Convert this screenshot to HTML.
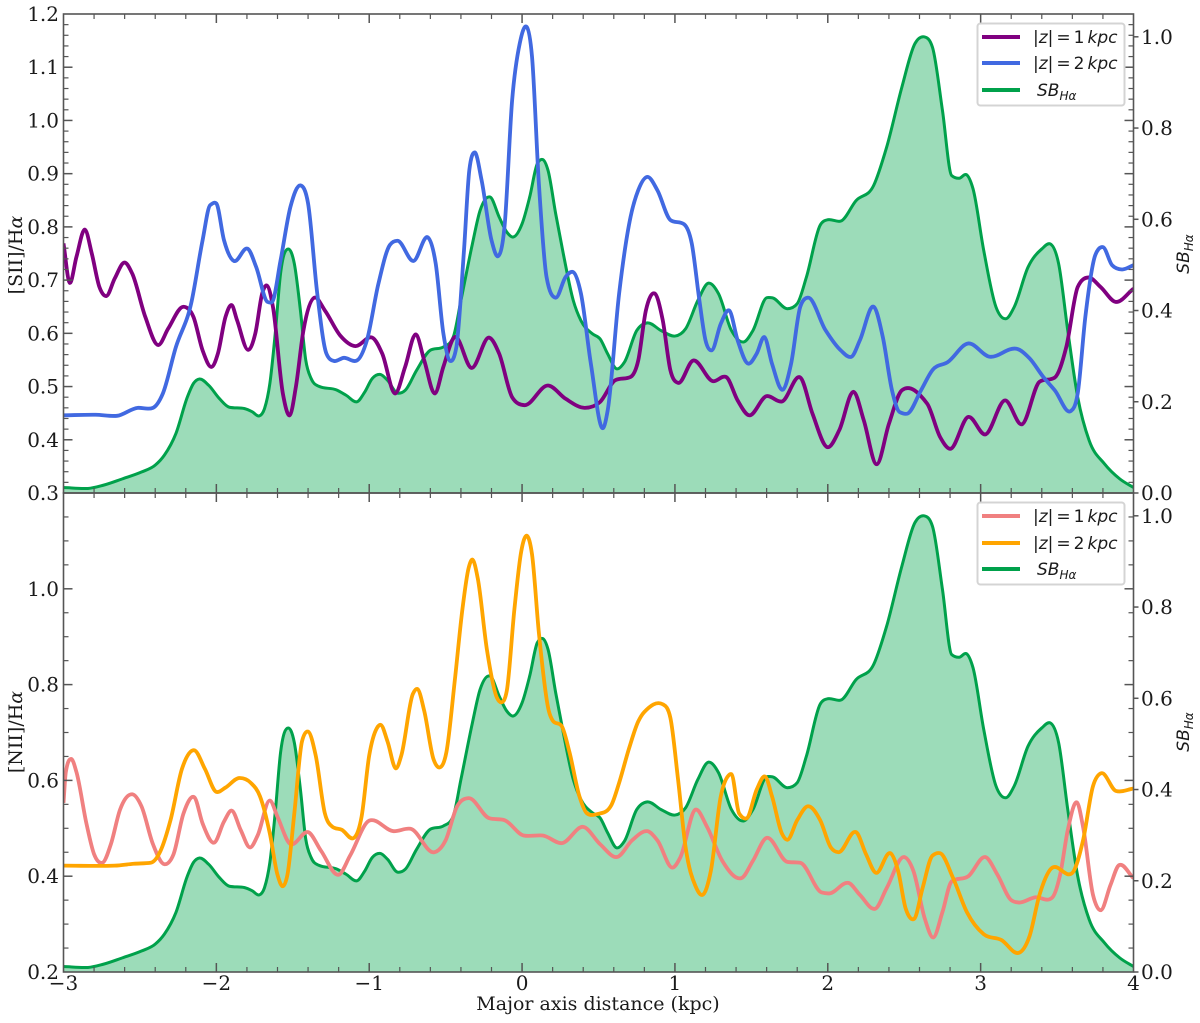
<!DOCTYPE html>
<html lang="en">
<head>
<meta charset="utf-8">
<title>[SII]/Hα and [NII]/Hα versus major axis distance</title>
<style>
html,body{margin:0;padding:0;background:#fff;width:1200px;height:1023px;overflow:hidden}
svg{display:block;filter:blur(0.35px)}
text{font-family:"DejaVu Serif","Liberation Serif",serif;fill:#1a1a1a}
.lg{font-family:"DejaVu Sans","Liberation Sans",sans-serif;font-size:17px;word-spacing:-2.4px}
.it{font-style:italic}
</style>
</head>
<body>
<svg id="chart" xmlns="http://www.w3.org/2000/svg" width="1200" height="1023" viewBox="0 0 1200 1023">
  <defs>
    <clipPath id="clip-top"><rect x="63.5" y="14" width="1070" height="479"/></clipPath>
    <clipPath id="clip-bottom"><rect x="63.5" y="493" width="1070" height="479"/></clipPath>
  </defs>
  <g id="layer-top"></g>
  <g id="layer-bottom"></g>
  <g id="layer-axes"></g>

  <text x="598" y="1010" font-size="19" text-anchor="middle">Major axis distance (kpc)</text>
  <text transform="translate(22 255) rotate(-90)" font-size="19" text-anchor="middle">[SII]/H<tspan font-style="italic">α</tspan></text>
  <text transform="translate(22 732) rotate(-90)" font-size="19" text-anchor="middle">[NII]/H<tspan font-style="italic">α</tspan></text>
  <text class="lg it" transform="translate(1189 254) rotate(-90)" text-anchor="middle">SB<tspan font-size="12" dy="4">Hα</tspan></text>
  <text class="lg it" transform="translate(1189 732) rotate(-90)" text-anchor="middle">SB<tspan font-size="12" dy="4">Hα</tspan></text>

  <g>
    <rect x="977.5" y="23.5" width="147" height="82" rx="3" fill="#fff" fill-opacity="0.85" stroke="#d4d4d4" stroke-width="2"/>
    <line x1="982" x2="1020" y1="37" y2="37" stroke="#800080" stroke-width="4"/>
    <line x1="982" x2="1020" y1="63" y2="63" stroke="#4169e1" stroke-width="4"/>
    <line x1="982" x2="1020" y1="90" y2="90" stroke="#00a14b" stroke-width="4"/>
    <text class="lg" x="1033" y="43">|<tspan class="it">z</tspan>| = 1 <tspan class="it">kpc</tspan></text>
    <text class="lg" x="1033" y="69">|<tspan class="it">z</tspan>| = 2 <tspan class="it">kpc</tspan></text>
    <text class="lg it" x="1037" y="96">SB<tspan font-size="12" dy="4">Hα</tspan></text>
  </g>
  <g>
    <rect x="977.5" y="502.5" width="147" height="82" rx="3" fill="#fff" fill-opacity="0.85" stroke="#d4d4d4" stroke-width="2"/>
    <line x1="982" x2="1020" y1="516" y2="516" stroke="#f08080" stroke-width="4"/>
    <line x1="982" x2="1020" y1="543" y2="543" stroke="#ffa500" stroke-width="4"/>
    <line x1="982" x2="1020" y1="569" y2="569" stroke="#00a14b" stroke-width="4"/>
    <text class="lg" x="1033" y="522">|<tspan class="it">z</tspan>| = 1 <tspan class="it">kpc</tspan></text>
    <text class="lg" x="1033" y="549">|<tspan class="it">z</tspan>| = 2 <tspan class="it">kpc</tspan></text>
    <text class="lg it" x="1037" y="575">SB<tspan font-size="12" dy="4">Hα</tspan></text>
  </g>
</svg>
<script>
// Surface brightness profile (shared by both panels)
var sbX = [-3,-2.84,-2.74,-2.615,-2.49,-2.4,-2.34,-2.265,-2.19,-2.15,-2.11,-2.05,-1.98,-1.915,-1.815,-1.765,-1.72,-1.685,-1.65,-1.615,-1.58,-1.53,-1.49,-1.45,-1.415,-1.38,-1.33,-1.215,-1.15,-1.08,-1.03,-0.98,-0.93,-0.88,-0.815,-0.765,-0.69,-0.6,-0.515,-0.45,-0.4,-0.325,-0.275,-0.21,-0.15,-0.1,-0.06,0,0.05,0.1,0.135,0.17,0.22,0.27,0.335,0.385,0.46,0.51,0.56,0.62,0.67,0.75,0.82,0.91,1,1.07,1.15,1.22,1.285,1.37,1.45,1.51,1.6,1.635,1.735,1.8,1.86,1.95,2,2.085,2.185,2.3,2.385,2.485,2.57,2.63,2.685,2.75,2.81,2.86,2.905,2.95,3.02,3.1,3.165,3.22,3.31,3.4,3.455,3.51,3.57,3.635,3.71,3.81,3.91,4];
var sbY = [0.012,0.01,0.017,0.031,0.046,0.061,0.083,0.13,0.21,0.24,0.25,0.236,0.207,0.188,0.185,0.178,0.169,0.185,0.24,0.349,0.481,0.535,0.503,0.4,0.291,0.251,0.234,0.226,0.214,0.2,0.221,0.251,0.26,0.247,0.219,0.225,0.269,0.313,0.32,0.342,0.422,0.546,0.619,0.649,0.605,0.572,0.561,0.59,0.649,0.722,0.731,0.707,0.612,0.524,0.422,0.378,0.349,0.338,0.305,0.272,0.287,0.356,0.373,0.356,0.344,0.36,0.422,0.46,0.437,0.356,0.331,0.356,0.428,0.428,0.404,0.415,0.473,0.587,0.599,0.596,0.641,0.674,0.758,0.89,0.985,1,0.977,0.839,0.696,0.69,0.698,0.667,0.532,0.408,0.382,0.408,0.495,0.535,0.546,0.503,0.356,0.21,0.115,0.064,0.031,0.012];

// [SII]/Halpha |z| = 1 kpc
var siiZ1X = [-3,-2.96,-2.915,-2.86,-2.815,-2.765,-2.72,-2.665,-2.6,-2.55,-2.465,-2.38,-2.315,-2.215,-2.15,-2.09,-2.03,-1.99,-1.94,-1.9,-1.865,-1.79,-1.745,-1.7,-1.67,-1.63,-1.565,-1.52,-1.48,-1.43,-1.36,-1.29,-1.19,-1.09,-0.98,-0.915,-0.83,-0.765,-0.695,-0.64,-0.57,-0.515,-0.44,-0.33,-0.215,-0.15,-0.065,0.015,0.17,0.285,0.41,0.51,0.61,0.71,0.76,0.81,0.867,0.92,0.97,1.02,1.12,1.25,1.335,1.41,1.485,1.6,1.7,1.82,1.9,2,2.075,2.17,2.235,2.32,2.4,2.485,2.65,2.735,2.8,2.92,3.03,3.16,3.27,3.385,3.485,3.56,3.635,3.705,3.785,3.885,4];
var siiZ1Y = [0.769,0.695,0.744,0.795,0.75,0.687,0.67,0.703,0.733,0.712,0.631,0.578,0.609,0.65,0.631,0.568,0.537,0.562,0.631,0.653,0.625,0.569,0.6,0.675,0.69,0.65,0.487,0.446,0.499,0.606,0.667,0.643,0.596,0.576,0.592,0.562,0.487,0.537,0.598,0.549,0.487,0.537,0.593,0.535,0.592,0.562,0.48,0.465,0.502,0.477,0.46,0.471,0.512,0.518,0.549,0.643,0.675,0.625,0.531,0.507,0.549,0.51,0.518,0.474,0.446,0.482,0.472,0.517,0.449,0.386,0.418,0.49,0.437,0.354,0.43,0.493,0.468,0.405,0.383,0.443,0.41,0.474,0.429,0.509,0.517,0.574,0.687,0.705,0.687,0.659,0.684];

// [SII]/Halpha |z| = 2 kpc
var siiZ2X = [-3,-2.79,-2.65,-2.515,-2.415,-2.35,-2.265,-2.165,-2.09,-2.04,-2,-1.95,-1.885,-1.795,-1.74,-1.665,-1.635,-1.58,-1.515,-1.45,-1.4,-1.34,-1.28,-1.23,-1.165,-1.08,-1.015,-0.94,-0.865,-0.815,-0.71,-0.615,-0.565,-0.515,-0.47,-0.43,-0.38,-0.345,-0.31,-0.265,-0.2,-0.157,-0.115,-0.065,-0.015,0.03,0.065,0.11,0.16,0.22,0.285,0.335,0.385,0.45,0.53,0.56,0.635,0.71,0.76,0.82,0.885,0.97,1.06,1.11,1.16,1.2,1.24,1.3,1.355,1.41,1.48,1.535,1.585,1.635,1.705,1.76,1.82,1.87,1.985,2.085,2.155,2.21,2.3,2.36,2.42,2.47,2.52,2.61,2.685,2.785,2.92,3.06,3.235,3.32,3.41,3.485,3.59,3.635,3.685,3.75,3.8,3.86,3.925,4];
var siiZ2Y = [0.446,0.447,0.445,0.46,0.46,0.487,0.574,0.656,0.775,0.841,0.844,0.775,0.736,0.759,0.725,0.659,0.659,0.737,0.838,0.878,0.844,0.675,0.562,0.548,0.554,0.549,0.587,0.693,0.766,0.774,0.736,0.78,0.731,0.6,0.548,0.574,0.756,0.907,0.94,0.888,0.775,0.745,0.8,1.038,1.145,1.176,1.12,0.881,0.706,0.667,0.706,0.715,0.675,0.543,0.422,0.455,0.675,0.819,0.869,0.894,0.869,0.813,0.805,0.769,0.662,0.587,0.568,0.618,0.643,0.587,0.543,0.562,0.593,0.543,0.494,0.543,0.65,0.667,0.606,0.568,0.556,0.587,0.65,0.593,0.493,0.452,0.449,0.493,0.531,0.546,0.581,0.556,0.571,0.553,0.518,0.493,0.454,0.487,0.631,0.747,0.762,0.728,0.72,0.728];

// [NII]/Halpha |z| = 1 kpc
var niiZ1X = [-3,-2.985,-2.95,-2.915,-2.85,-2.8,-2.745,-2.69,-2.63,-2.55,-2.49,-2.415,-2.34,-2.28,-2.215,-2.145,-2.09,-2.015,-1.95,-1.9,-1.84,-1.78,-1.73,-1.65,-1.6,-1.515,-1.4,-1.315,-1.2,-1.125,-1,-0.84,-0.73,-0.575,-0.5,-0.425,-0.35,-0.215,-0.115,0.01,0.135,0.26,0.4,0.51,0.62,0.72,0.82,0.885,0.985,1.035,1.135,1.21,1.31,1.435,1.51,1.6,1.735,1.82,1.96,2.01,2.135,2.21,2.31,2.385,2.5,2.56,2.635,2.69,2.75,2.81,2.92,3.03,3.11,3.2,3.25,3.36,3.47,3.52,3.57,3.63,3.67,3.735,3.785,3.85,3.905,4];
var niiZ1Y = [0.553,0.617,0.645,0.617,0.51,0.446,0.428,0.467,0.539,0.571,0.546,0.467,0.425,0.446,0.531,0.565,0.51,0.47,0.514,0.537,0.496,0.46,0.485,0.558,0.524,0.467,0.492,0.453,0.403,0.443,0.516,0.494,0.499,0.45,0.475,0.546,0.563,0.521,0.517,0.485,0.485,0.469,0.503,0.467,0.44,0.475,0.494,0.475,0.418,0.439,0.539,0.503,0.432,0.396,0.432,0.48,0.43,0.428,0.366,0.364,0.386,0.361,0.332,0.375,0.44,0.411,0.311,0.272,0.325,0.389,0.4,0.44,0.403,0.35,0.345,0.356,0.356,0.403,0.496,0.554,0.503,0.361,0.329,0.382,0.423,0.396];

// [NII]/Halpha |z| = 2 kpc
var niiZ2X = [-3,-2.665,-2.54,-2.43,-2.365,-2.3,-2.225,-2.145,-2.075,-2,-1.94,-1.85,-1.775,-1.715,-1.65,-1.6,-1.565,-1.535,-1.49,-1.44,-1.4,-1.35,-1.29,-1.24,-1.18,-1.1,-1.05,-1,-0.95,-0.925,-0.88,-0.825,-0.79,-0.715,-0.685,-0.64,-0.58,-0.54,-0.495,-0.44,-0.39,-0.35,-0.325,-0.29,-0.23,-0.165,-0.135,-0.1,-0.05,-0.005,0.03,0.065,0.11,0.175,0.2,0.26,0.31,0.375,0.425,0.51,0.585,0.635,0.7,0.76,0.8,0.92,0.97,1.02,1.07,1.135,1.18,1.235,1.3,1.35,1.37,1.42,1.47,1.535,1.59,1.635,1.7,1.735,1.8,1.87,1.95,2.02,2.07,2.185,2.25,2.315,2.41,2.46,2.51,2.565,2.62,2.685,2.735,2.82,2.91,3.02,3.135,3.25,3.32,3.385,3.47,3.6,3.67,3.735,3.79,3.885,4];
var niiZ2Y = [0.422,0.422,0.426,0.428,0.453,0.517,0.624,0.663,0.624,0.576,0.585,0.605,0.595,0.567,0.489,0.403,0.379,0.403,0.531,0.681,0.702,0.652,0.531,0.503,0.497,0.48,0.524,0.652,0.709,0.716,0.681,0.625,0.652,0.78,0.791,0.745,0.645,0.627,0.659,0.809,0.958,1.043,1.061,1.022,0.873,0.773,0.763,0.787,0.958,1.079,1.111,1.072,0.908,0.745,0.725,0.713,0.659,0.567,0.531,0.531,0.549,0.595,0.667,0.723,0.743,0.759,0.731,0.603,0.46,0.379,0.361,0.411,0.567,0.61,0.613,0.531,0.521,0.581,0.608,0.567,0.489,0.476,0.517,0.546,0.517,0.46,0.45,0.492,0.446,0.407,0.448,0.411,0.332,0.311,0.375,0.443,0.448,0.396,0.325,0.279,0.267,0.24,0.275,0.361,0.418,0.407,0.475,0.588,0.615,0.578,0.583];

// Tick labels
var xTickValues = [-3,-2,-1,0,1,2,3,4];
var xTickLabels = ['−3','−2','−1','0','1','2','3','4'];
var siiTickValues = [0.3,0.4,0.5,0.6,0.7,0.8,0.9,1.0,1.1,1.2];
var siiTickLabels = ['0.3','0.4','0.5','0.6','0.7','0.8','0.9','1.0','1.1','1.2'];
var niiTickValues = [0.2,0.4,0.6,0.8,1.0];
var niiTickLabels = ['0.2','0.4','0.6','0.8','1.0'];
var sbTickValues = [0,0.2,0.4,0.6,0.8,1.0];
var sbTickLabels = ['0.0','0.2','0.4','0.6','0.8','1.0'];

var NS = 'http://www.w3.org/2000/svg';
var plotLeft = 63.5, plotRight = 1133.5;
var xMin = -3, xMax = 4;
var panels = {
  top: {y0: 14, y1: 493, min: 0.3, max: 1.2, minor: 0.02, clip: 'clip-top'},
  bottom: {y0: 493, y1: 972, min: 0.2, max: 1.2, minor: 0.05, clip: 'clip-bottom'}
};
var sbMax = 1.05;

function xScale(v) { return plotLeft + (v - xMin) / (xMax - xMin) * (plotRight - plotLeft); }
function yScale(p, v) { return p.y1 - (v - p.min) / (p.max - p.min) * (p.y1 - p.y0); }
function sbScale(p, v) { return p.y1 - v / sbMax * (p.y1 - p.y0); }

function make(tag, parent) {
  var e = document.createElementNS(NS, tag);
  parent.appendChild(e);
  return e;
}

// Smooth cubic path through knots with weighted tangents, limited to avoid ringing
function curve(px, py) {
  var n = px.length, d = [], m = [], i;
  for (i = 0; i < n - 1; i++) d.push((py[i + 1] - py[i]) / (px[i + 1] - px[i]));
  m.push(d[0]);
  for (i = 1; i < n - 1; i++) {
    var h0 = px[i] - px[i - 1], h1 = px[i + 1] - px[i];
    var t = (h1 * d[i - 1] + h0 * d[i]) / (h0 + h1);
    if (d[i - 1] * d[i] > 0) {
      var lim = 2.5 * Math.min(Math.abs(d[i - 1]), Math.abs(d[i]));
      if (Math.abs(t) > lim) t = (t > 0 ? 1 : -1) * lim;
    } else {
      t *= 0.5;
    }
    m.push(t);
  }
  m.push(d[n - 2]);
  var s = 'M' + px[0].toFixed(2) + ' ' + py[0].toFixed(2);
  for (i = 0; i < n - 1; i++) {
    var h = (px[i + 1] - px[i]) / 3;
    s += 'C' + (px[i] + h).toFixed(2) + ' ' + (py[i] + m[i] * h).toFixed(2) + ' ' +
         (px[i + 1] - h).toFixed(2) + ' ' + (py[i + 1] - m[i + 1] * h).toFixed(2) + ' ' +
         px[i + 1].toFixed(2) + ' ' + py[i + 1].toFixed(2);
  }
  return s;
}

function drawSb(layer, p, prefix) {
  var px = sbX.map(xScale);
  var py = sbY.map(function (v) { return sbScale(p, v); });
  var line = curve(px, py);
  var fill = make('path', layer);
  
  
  fill.setAttribute('d', line + 'L' + px[px.length - 1].toFixed(2) + ' ' + p.y1 + 'L' + px[0].toFixed(2) + ' ' + p.y1 + 'Z');
  fill.setAttribute('fill', '#9cdcb9');
  var stroke = make('path', layer);
  
  
  stroke.setAttribute('d', line);
  stroke.setAttribute('fill', 'none');
  stroke.setAttribute('stroke', '#00a14b');
  stroke.setAttribute('stroke-width', '3');
  stroke.setAttribute('stroke-linejoin', 'round');
}

function drawRatio(layer, p, xs, ys, color, name) {
  var path = make('path', layer);
  
  
  path.setAttribute('d', curve(xs.map(xScale), ys.map(function (v) { return yScale(p, v); })));
  path.setAttribute('fill', 'none');
  path.setAttribute('stroke', color);
  path.setAttribute('stroke-width', '3.8');
  path.setAttribute('stroke-linejoin', 'round');
  path.setAttribute('stroke-linecap', 'butt');
}

function tick(layer, x1, y1, x2, y2, major, name) {
  var t = make('line', layer);
  
  
  t.setAttribute('x1', x1);
  t.setAttribute('y1', y1);
  t.setAttribute('x2', x2);
  t.setAttribute('y2', y2);
  t.setAttribute('stroke', '#555');
  t.setAttribute('stroke-width', major ? '1.5' : '1.2');
}

function label(layer, x, y, str, anchor, name) {
  var t = make('text', layer);
  
  
  t.setAttribute('x', x);
  t.setAttribute('y', y);
  t.setAttribute('font-size', '20');
  t.setAttribute('text-anchor', anchor);
  t.textContent = str;
}

function drawAxes(layer, p, leftVals, leftLabels, prefix) {
  var i, v, k;
  // spines
  var frame = make('rect', layer);
  
  
  frame.setAttribute('x', plotLeft);
  frame.setAttribute('y', p.y0);
  frame.setAttribute('width', plotRight - plotLeft);
  frame.setAttribute('height', p.y1 - p.y0);
  frame.setAttribute('fill', 'none');
  frame.setAttribute('stroke', '#555');
  frame.setAttribute('stroke-width', '1.6');
  // x ticks on top and bottom edges, inward
  for (k = 0; k <= 35; k++) {
    v = xMin + k * 0.2;
    var isMajor = k % 5 === 0;
    var len = isMajor ? 9 : 5;
    var xp = xScale(v);
    if (k === 0 || k === 35) continue;
    tick(layer, xp, p.y0, xp, p.y0 + len, isMajor, prefix + '-top-x-tick');
    tick(layer, xp, p.y1, xp, p.y1 - len, isMajor, prefix + '-bottom-x-tick');
  }
  // left-scale ticks on both vertical edges, inward
  var steps = Math.round((p.max - p.min) / p.minor);
  var every = p === panels.top ? 5 : 4;
  for (k = 1; k < steps; k++) {
    v = p.min + k * p.minor;
    var maj = k % every === 0;
    var l = maj ? 9 : 5;
    var yp = yScale(p, v);
    tick(layer, plotLeft, yp, plotLeft + l, yp, maj, prefix + '-left-y-tick');
    tick(layer, plotRight, yp, plotRight - l, yp, maj, prefix + '-right-y-tick');
  }
  // left labels
  for (i = 0; i < leftVals.length; i++) {
    label(layer, 59, yScale(p, leftVals[i]) + 7, leftLabels[i], 'end', prefix + '-y-tick-label');
  }
  // right SB axis, outward ticks
  for (i = 0; i < sbTickValues.length; i++) {
    var ys = sbScale(p, sbTickValues[i]);
    tick(layer, plotRight, ys, plotRight + 5, ys, true, prefix + '-sb-tick');
    label(layer, 1141, ys + 7, sbTickLabels[i], 'start', prefix + '-sb-tick-label');
  }
}

var topLayer = document.getElementById('layer-top');
var bottomLayer = document.getElementById('layer-bottom');
var axesLayer = document.getElementById('layer-axes');
topLayer.setAttribute('clip-path', 'url(#clip-top)');
bottomLayer.setAttribute('clip-path', 'url(#clip-bottom)');

drawSb(topLayer, panels.top, 'sii');
drawRatio(topLayer, panels.top, siiZ1X, siiZ1Y, '#800080', 'sii-z1-line');
drawRatio(topLayer, panels.top, siiZ2X, siiZ2Y, '#4169e1', 'sii-z2-line');

drawSb(bottomLayer, panels.bottom, 'nii');
drawRatio(bottomLayer, panels.bottom, niiZ1X, niiZ1Y, '#f08080', 'nii-z1-line');
drawRatio(bottomLayer, panels.bottom, niiZ2X, niiZ2Y, '#ffa500', 'nii-z2-line');

drawAxes(axesLayer, panels.top, siiTickValues, siiTickLabels, 'sii');
drawAxes(axesLayer, panels.bottom, niiTickValues, niiTickLabels, 'nii');

for (var i = 0; i < xTickValues.length; i++) {
  label(axesLayer, xScale(xTickValues[i]), 990, xTickLabels[i], 'middle', 'x-tick-label');
}
</script>
</body>
</html>
